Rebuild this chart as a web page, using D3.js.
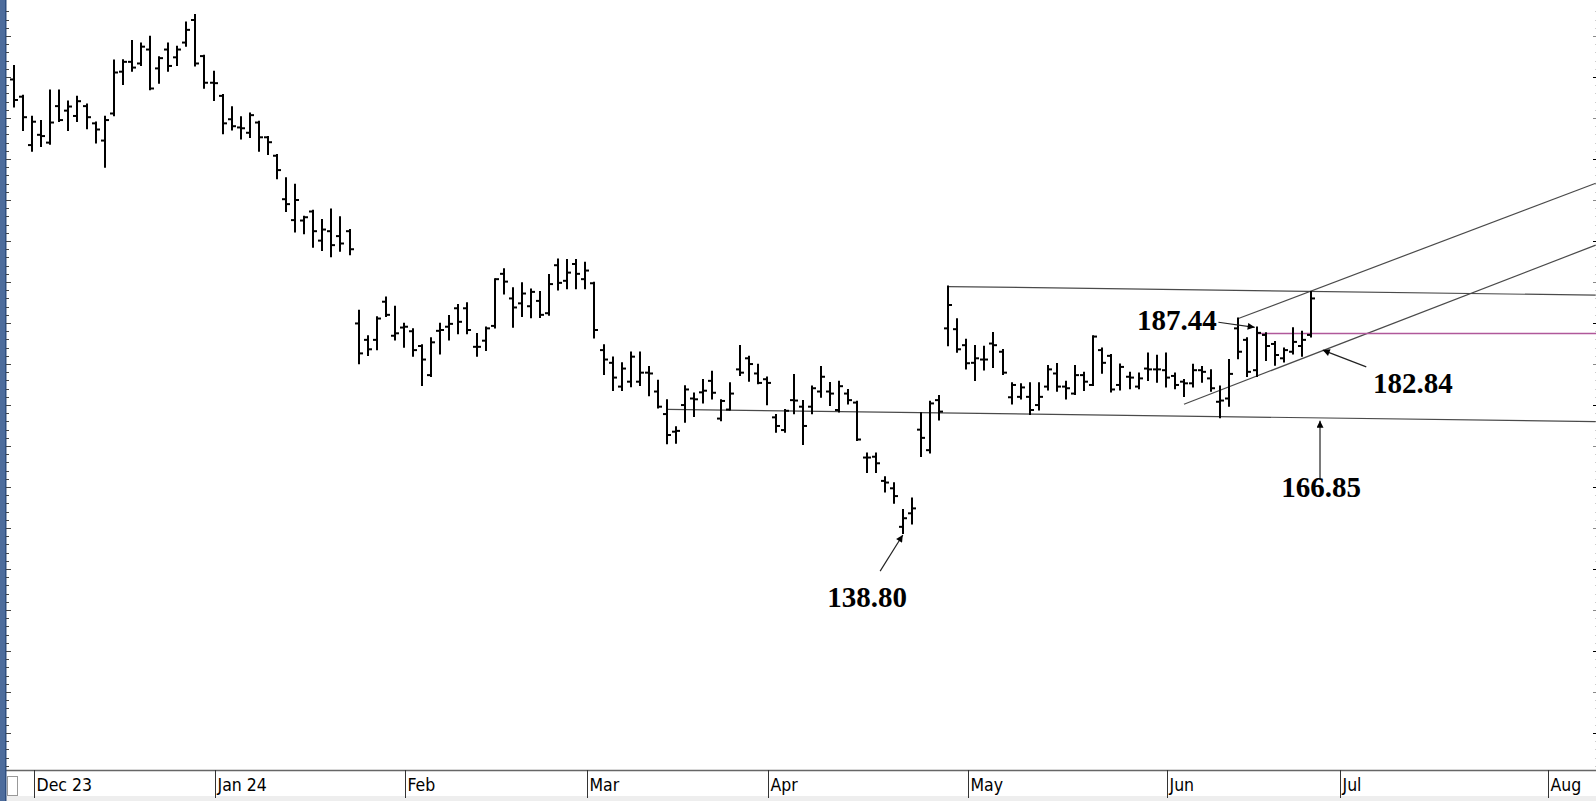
<!DOCTYPE html>
<html lang="en">
<head>
<meta charset="UTF-8">
<title>Daily OHLC bars</title>
<style>
  html, body { margin: 0; padding: 0; background: #fff; }
  svg { display: block; }
  .bar { stroke: #000; stroke-width: 2px; fill: none; }
  .trend { stroke: #4a4a4a; stroke-width: 1.2px; fill: none; }
  .note { font-family: "Liberation Serif", "Times New Roman", serif; font-weight: bold; font-size: 29px; fill: #000; }
  .month { font-family: "DejaVu Sans Condensed", "Liberation Sans", sans-serif; font-stretch: condensed; font-size: 17.5px; fill: #000; }
</style>
</head>
<body>
<svg width="1596" height="801"></svg>
<script src="https://d3js.org/d3.v7.min.js"></script>
<script>
// bar index 0 = 29 Nov 2023, one slot per trading day
const opens = [
  249.4, 245.2, 233.4, 235.9, 234.0, 242.9, 241.8, 240.5, 242.9, 238.7,
  234.5, 241.1, 251.3, 253.7, 253.3, 256.7, 252.1, 256.7, 254.8, 258.4,
  263.9, 255.1, 248.6, 245.4, 239.7, 237.7, 236.4, 238.9, 235.3, 230.8,
  220.2, 215.1, 215.0, 217.2, 210.1, 212.4, 211.2, 212.4, 189.9, 185.9,
  185.9, 195.2, 186.9, 188.9, 188.0, 184.4, 177.3, 188.1, 189.1, 193.6,
  193.6, 184.2, 185.7, 189.3, 202.0, 196.0, 194.8, 194.1, 195.4, 192.4,
  204.1, 200.3, 204.4, 200.7, 199.7, 183.4, 180.3, 174.5, 175.7, 175.7,
  177.9, 173.3, 167.8, 163.5, 170.0, 171.6, 173.1, 175.9, 166.7, 168.9,
  178.7, 181.4, 177.7, 176.3, 167.0, 163.9, 171.2, 169.6, 169.6, 173.3,
  173.3, 168.8, 172.8, 170.6, 157.2, 157.4, 151.5, 149.7, 140.3, 143.6,
  164.0, 159.0, 171.2, 188.7, 188.5, 184.6, 180.3, 181.1, 185.0, 183.0,
  171.9, 172.0, 172.0, 170.0, 174.5, 177.7, 174.5, 172.8, 177.3, 174.9,
  183.4, 182.0, 174.9, 176.9, 174.5, 178.9, 178.7, 178.5, 177.1, 175.7,
  175.3, 178.5, 176.5, 170.8, 171.6, 188.7, 185.9, 178.5, 187.1, 184.9,
  181.4, 183.0, 184.4, 187.1
];
const highs = [
  252.7, 245.4, 240.3, 239.3, 246.7, 246.7, 244.0, 245.2, 243.3, 238.9,
  240.3, 254.0, 254.1, 258.8, 258.2, 259.8, 254.8, 258.2, 257.4, 263.3,
  265.1, 255.2, 251.3, 245.6, 242.6, 240.2, 241.1, 239.1, 235.4, 231.0,
  225.3, 223.7, 215.9, 217.4, 215.1, 217.7, 215.8, 212.7, 193.0, 186.8,
  191.4, 196.2, 194.0, 189.8, 188.5, 184.6, 186.3, 189.8, 191.7, 194.4,
  194.8, 187.3, 188.9, 200.7, 203.1, 198.5, 199.7, 198.2, 197.6, 201.7,
  205.5, 205.4, 205.4, 204.7, 199.8, 184.6, 181.6, 180.2, 182.8, 182.8,
  179.3, 175.9, 171.2, 164.6, 174.6, 172.8, 176.1, 178.1, 171.2, 175.3,
  184.4, 181.8, 179.8, 176.7, 167.6, 168.8, 177.3, 171.0, 174.5, 179.3,
  175.4, 175.7, 173.7, 170.8, 158.2, 158.2, 152.4, 150.9, 144.4, 147.2,
  168.0, 170.8, 172.2, 198.9, 190.9, 185.9, 184.4, 184.2, 187.6, 183.4,
  175.3, 175.1, 175.3, 175.3, 179.5, 180.0, 175.7, 179.5, 177.9, 186.8,
  183.8, 182.2, 179.9, 177.9, 177.7, 182.6, 182.0, 182.6, 177.7, 176.1,
  179.8, 179.3, 178.5, 174.5, 181.0, 191.1, 186.3, 188.9, 187.5, 185.4,
  183.8, 188.7, 187.9, 197.6
];
const lows = [
  242.8, 237.1, 232.0, 233.2, 233.7, 239.3, 237.1, 239.3, 237.5, 234.0,
  228.1, 240.7, 248.3, 251.5, 252.9, 247.0, 248.6, 251.5, 252.9, 257.6,
  252.8, 247.4, 244.4, 236.3, 237.2, 235.0, 235.4, 232.0, 231.2, 225.3,
  217.3, 212.3, 211.9, 208.6, 207.8, 206.3, 207.6, 206.8, 180.2, 182.2,
  183.6, 191.7, 186.0, 184.2, 182.0, 174.9, 177.1, 182.6, 186.0, 187.5,
  187.5, 182.0, 183.4, 188.9, 197.2, 189.1, 191.7, 191.4, 191.5, 192.0,
  198.2, 198.5, 198.5, 198.5, 186.5, 177.6, 173.7, 173.7, 174.6, 174.9,
  172.4, 169.4, 160.7, 160.8, 165.9, 167.3, 170.6, 171.6, 166.3, 168.9,
  177.3, 175.9, 175.3, 170.2, 163.5, 163.5, 168.0, 160.5, 168.0, 172.0,
  170.0, 168.4, 170.4, 161.5, 153.7, 153.7, 148.9, 146.2, 138.8, 141.1,
  157.6, 158.4, 166.5, 184.6, 183.0, 178.9, 176.1, 178.7, 179.3, 177.6,
  170.4, 171.6, 167.8, 168.9, 173.8, 173.5, 171.6, 172.7, 173.7, 174.9,
  177.9, 173.3, 173.8, 174.1, 174.1, 176.1, 175.7, 174.5, 174.1, 172.2,
  174.5, 175.7, 173.5, 167.0, 169.8, 181.4, 177.1, 177.1, 181.0, 179.8,
  180.6, 182.6, 182.0, 186.7
];
const closes = [
  244.4, 240.2, 239.1, 235.6, 238.9, 239.5, 242.8, 244.1, 240.2, 237.2,
  239.5, 251.1, 253.7, 252.3, 257.4, 247.2, 254.6, 252.7, 256.7, 261.5,
  253.3, 248.6, 248.5, 238.7, 238.0, 237.5, 240.7, 235.3, 234.1, 227.3,
  219.0, 220.0, 215.8, 212.4, 212.8, 209.0, 209.4, 208.0, 182.6, 183.6,
  191.1, 192.0, 187.5, 189.1, 183.4, 181.1, 185.3, 188.3, 189.8, 190.3,
  188.3, 184.2, 188.7, 200.7, 200.1, 193.8, 197.2, 197.6, 192.0, 199.5,
  199.8, 202.3, 202.0, 202.8, 188.3, 181.1, 176.7, 178.9, 181.8, 177.9,
  177.7, 169.6, 162.7, 163.7, 173.8, 171.4, 173.5, 173.0, 171.0, 172.8,
  177.9, 180.0, 175.4, 175.4, 164.9, 168.6, 171.1, 164.9, 174.1, 176.9,
  172.8, 174.6, 171.2, 161.6, 157.2, 155.8, 151.1, 147.8, 142.4, 144.8,
  162.0, 170.4, 168.4, 194.4, 183.6, 180.2, 181.4, 181.1, 184.6, 177.9,
  174.9, 174.3, 168.8, 172.0, 178.7, 174.5, 174.1, 177.3, 175.7, 186.7,
  180.3, 173.8, 179.3, 176.7, 176.5, 178.7, 178.7, 176.7, 174.9, 175.3,
  178.5, 178.1, 174.1, 171.1, 177.6, 183.0, 178.1, 187.6, 184.4, 182.2,
  183.4, 185.4, 185.9, 196.0
];

// month separators: label and bar index of the first session
const monthLabels = ["Dec 23", "Jan 24", "Feb", "Mar", "Apr", "May", "Jun", "Jul", "Aug"];
const monthStarts = [2, 22, 43, 63, 83, 105, 127, 146, 169];

// drawn lines: [startIndex, startPrice, endIndex, endPrice]
const trendLines = [
  [103, 198.9, 174.4, 196.8],   // top of the May range
  [72, 168.95, 174.4, 165.98],  // support through 166.85
  [129, 170.2, 174.4, 209.0],   // rising channel, lower edge
  [135, 191.1, 174.4, 224.1]    // rising channel, upper edge
];
const levelLine = { from: 137, price: 187.44 };

// callouts: text, text position, arrow from [index, price] to [index, price]
const callouts = [
  { text: "187.44", tx: 1137, ty: 330, anchor: "start", from: [132.8, 190.2], to: [136.8, 188.95] },
  { text: "182.84", tx: 1373, ty: 393, anchor: "start", from: [149.1, 179.3], to: [144.3, 183.4] },
  { text: "166.85", tx: 1321, ty: 497, anchor: "middle", from: [144, 151.8], to: [144, 166.2] },
  { text: "138.80", tx: 867, ty: 607, anchor: "middle", from: [95.5, 129.5], to: [98.0, 138.3] }
];

const W = 1596, H = 801;
const plotL = 7, plotR = 1593, plotT = 0, plotB = 770;

const svg = d3.select("svg");

const x = d3.scaleLinear().domain([-0.77, 174.1]).range([plotL, plotR]);
const y = d3.scaleLinear().domain([81, 268.78]).range([plotB, plotT]);

svg.append("defs").append("marker")
  .attr("id", "head")
  .attr("viewBox", "0 0 10 10")
  .attr("refX", 10).attr("refY", 5)
  .attr("markerWidth", 10).attr("markerHeight", 7)
  .attr("markerUnits", "userSpaceOnUse")
  .attr("orient", "auto")
  .append("path").attr("d", "M0,0L10,5L0,10Z").attr("fill", "#000");

// bottom strip
svg.append("rect").attr("x", 0).attr("y", 796).attr("width", W).attr("height", 5).attr("fill", "#eeeeee");
svg.append("line").attr("x1", 0).attr("x2", W).attr("y1", plotB + 0.5).attr("y2", plotB + 0.5)
  .attr("stroke", "#666").attr("stroke-width", 1.5);

// month axis
const monthG = svg.append("g");
monthLabels.forEach((m, k) => {
  const sx = Math.round(x(monthStarts[k]) + 1.5) + 0.5;
  monthG.append("line").attr("x1", sx).attr("x2", sx).attr("y1", plotB).attr("y2", 798)
    .attr("stroke", "#333").attr("stroke-width", 1);
  monthG.append("text").attr("class", "month").attr("x", sx + 2).attr("y", 791).text(m);
});
// little box at lower left
svg.append("rect").attr("x", 7.5).attr("y", 776.5).attr("width", 10).attr("height", 19)
  .attr("fill", "#fff").attr("stroke", "#999");

// price ticks, left and right
const minor = d3.range(82, 268, 2);
const major = d3.range(90, 261, 10);
const leftG = svg.append("g");
leftG.append("rect").attr("x", 0).attr("y", 0).attr("width", 6).attr("height", H).attr("fill", "#4d6c9c");
leftG.append("rect").attr("x", 5).attr("y", 0).attr("width", 1.5).attr("height", H).attr("fill", "#2f4f80");
leftG.selectAll(".lmin").data(minor).join("line")
  .attr("x1", 6).attr("x2", d => major.includes(d) ? 11 : 9)
  .attr("y1", d => Math.round(y(d)) + 0.5).attr("y2", d => Math.round(y(d)) + 0.5)
  .attr("stroke", "#444").attr("stroke-width", 1);

const rightG = svg.append("g");
rightG.selectAll(".rmin").data(minor).join("line")
  .attr("x1", d => major.includes(d) ? 1593 : 1595).attr("x2", 1596)
  .attr("y1", d => Math.round(y(d)) + 0.5).attr("y2", d => Math.round(y(d)) + 0.5)
  .attr("stroke", d => !major.includes(d) ? "#ccc" : (d % 20 === 10 ? "#000" : "#888"))
  .attr("stroke-width", 1);

// trend lines
svg.append("g").selectAll("line").data(trendLines).join("line")
  .attr("class", "trend")
  .attr("x1", d => x(d[0])).attr("y1", d => y(d[1]))
  .attr("x2", d => x(d[2])).attr("y2", d => y(d[3]));

svg.append("line")
  .attr("x1", x(levelLine.from)).attr("x2", plotR + 3)
  .attr("y1", y(levelLine.price)).attr("y2", y(levelLine.price))
  .attr("stroke", "#b0589a").attr("stroke-width", 1.5);

// OHLC bars
const bars = svg.append("g").attr("class", "bar");
opens.forEach((o, i) => {
  const cx = Math.round(x(i));
  bars.append("line").attr("x1", cx).attr("x2", cx).attr("y1", y(highs[i]) - 1).attr("y2", y(lows[i]) + 1);
  bars.append("line").attr("x1", cx - 4).attr("x2", cx).attr("y1", y(o)).attr("y2", y(o));
  bars.append("line").attr("x1", cx).attr("x2", cx + 4).attr("y1", y(closes[i])).attr("y2", y(closes[i]));
});

// callouts
const notes = svg.append("g");
callouts.forEach(c => {
  notes.append("line")
    .attr("x1", x(c.from[0])).attr("y1", y(c.from[1]))
    .attr("x2", x(c.to[0])).attr("y2", y(c.to[1]))
    .attr("stroke", "#222").attr("stroke-width", 1.2)
    .attr("marker-end", "url(#head)");
  notes.append("text").attr("class", "note")
    .attr("x", c.tx).attr("y", c.ty).attr("text-anchor", c.anchor).text(c.text);
});
</script>
</body>
</html>
